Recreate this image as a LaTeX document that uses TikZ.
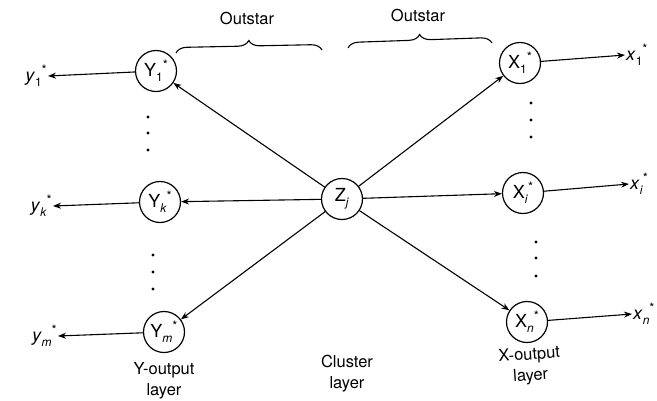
\documentclass[tikz,border=0pt]{standalone}
\usepackage{fontspec}
\setmainfont{TeX Gyre Heros}
\usetikzlibrary{arrows.meta,decorations.pathreplacing}
\newcommand{\sbsp}[1]{\raisebox{-0.5ex}{\fontsize{12}{12}\selectfont #1}\raisebox{0.75ex}{\fontsize{13}{13}\selectfont *}}
\newcommand{\nlab}[2]{#1\sbsp{#2}}
\begin{document}
\begin{tikzpicture}[x=1pt,y=-1pt,
  neuron/.style={circle, draw, line width=1.2pt, minimum size=41pt, inner sep=0pt, font=\fontsize{18}{18}\selectfont},
  outlab/.style={inner sep=1pt, font=\fontsize{18}{18}\selectfont},
  txt/.style={font=\fontsize{16.5}{21}\selectfont, align=center},
  conn/.style={line width=1.1pt, -{Stealth[length=8pt,width=6pt]}},
  dotm/.style={circle, fill, inner sep=0pt, minimum size=3.2pt},
  bracestyle/.style={line width=1.1pt, decorate, decoration={brace, amplitude=11pt}}]
\useasboundingbox (0,0) rectangle (657,400);

% nodes
\node[neuron] (Y1) at (156,71) {\nlab{Y}{1}};
\node[neuron] (Yk) at (160,202) {\nlab{Y}{\textit{k}}};
\node[neuron] (Ym) at (164,332) {\nlab{Y}{\textit{m}}};
\node[neuron] (Zj) at (342,199) {Z\raisebox{-0.5ex}{\fontsize{12}{12}\selectfont\textit{j}}};
\node[neuron] (X1) at (520,63) {\nlab{X}{1}};
\node[neuron] (Xi) at (523,193) {\nlab{X}{\textit{i}}};
\node[neuron] (Xn) at (527,322) {\nlab{X}{\textit{n}}};

% output labels
\node[outlab, anchor=east] (ly1) at (48,76) {\textit{y}\sbsp{1}};
\node[outlab, anchor=east] (lyk) at (53,206) {\textit{y}\sbsp{\textit{k}}};
\node[outlab, anchor=east] (lym) at (58,336) {\textit{y}\sbsp{\textit{m}}};
\node[outlab, anchor=west] (lx1) at (625,55) {\textit{x}\sbsp{1}};
\node[outlab, anchor=west] (lxi) at (629,184) {\textit{x}\sbsp{\textit{i}}};
\node[outlab, anchor=west] (lxn) at (632,314) {\textit{x}\sbsp{\textit{n}}};

% connections from cluster unit
\foreach \t in {Y1,Yk,Ym,X1,Xi,Xn}
  \draw[conn] (Zj) -- (\t);

% output arrows
\draw[conn] (Y1) -- (ly1.east);
\draw[conn] (Yk) -- (lyk.east);
\draw[conn] (Ym) -- (lym.east);
\draw[conn] (X1) -- (lx1.west);
\draw[conn] (Xi) -- (lxi.west);
\draw[conn] (Xn) -- (lxn.west);

% dots
\foreach \y in {117,133,150} \node[dotm] (dya\y) at (148,\y) {};
\foreach \y in {255,272,289} \node[dotm] (dyb\y) at (153,\y) {};
\foreach \y in {103,120,137} \node[dotm] (dxa\y) at (531,\y) {};
\foreach \y in {242,258,276} \node[dotm] (dxb\y) at (536,\y) {};

% braces
\coordinate (b1s) at (176,53);
\coordinate (b1e) at (322,50);
\coordinate (b2s) at (348,48);
\coordinate (b2e) at (492,43);
\draw[bracestyle] (b1s) -- (b1e);
\draw[bracestyle] (b2s) -- (b2e);
\node[txt] (os1) at (247,18) {Outstar};
\node[txt] (os2) at (418,15) {Outstar};

% layer labels
\node[txt] (ylay) at (164,381) {Y-output\\layer};
\node[txt] (clay) at (347,374) {Cluster\\layer};
\node[txt, rotate=4] (xlay) at (530,366) {X-output\\layer};
\end{tikzpicture}
\end{document}
